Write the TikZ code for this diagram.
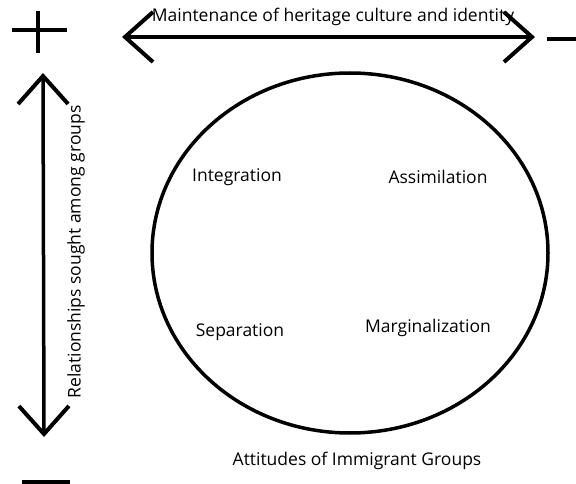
\documentclass[tikz,border=0pt]{standalone}
\usepackage{fontspec}
\setmainfont{Open Sans}
\usetikzlibrary{arrows.meta}
\tikzset{
  label text/.style={font=\fontsize{17.5}{20}\selectfont, inner sep=0pt},
  axis arrow/.style={line width=3.5pt, {Straight Barb[length=28pt,width=50pt,line width=4pt]}-{Straight Barb[length=28pt,width=50pt,line width=4pt]}},
  sign/.style={line width=4pt}
}
\begin{document}
\begin{tikzpicture}[x=1pt,y=-1pt]
\useasboundingbox (0,0) rectangle (576,484);
\coordinate (left end) at (122,37);
\coordinate (right end) at (535,37);
\coordinate (top end) at (43,73);
\coordinate (bottom end) at (44,437);
% Horizontal axis
\draw[axis arrow] (left end) -- (right end);
\node[label text] (culture) at (333,17) {Maintenance of heritage culture and identity};
% Vertical axis
\draw[axis arrow] (top end) -- (bottom end);
\node[label text, rotate=90] (relations) at (76,252) {Relationships sought among groups};
% Plus and minus signs
\draw[sign] (12,30) -- (67,30);
\draw[sign] (38,11) -- (38,53);
\draw[sign] (547,39) -- (576,39);
\draw[sign] (22,482) -- (70,482);
% Circle of attitudes
\draw[line width=3.5pt] (350,253) ellipse [x radius=198, y radius=180];
\node[label text] (integration) at (237,177) {Integration};
\node[label text] (assimilation) at (438,177) {Assimilation};
\node[label text] (separation) at (240,332) {Separation};
\node[label text] (marginalization) at (428,328) {Marginalization};
\node[label text] (attitudes) at (357,461) {Attitudes of Immigrant Groups};
\end{tikzpicture}
\end{document}
